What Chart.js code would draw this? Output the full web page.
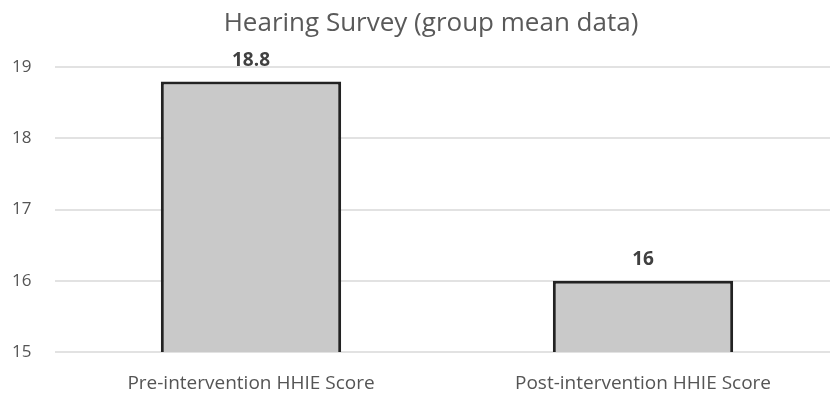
<!DOCTYPE html>
<html>
<head>
<meta charset="utf-8">
<script src="https://cdn.jsdelivr.net/npm/chart.js@4/dist/chart.umd.min.js"></script>
<style>
  html, body { margin: 0; padding: 0; background: #ffffff; overflow: hidden; }
  #wrap { width: 862px; height: 400px; position: relative; }
</style>
</head>
<body>
<div id="wrap"><canvas id="chart"></canvas></div>
<script>
// HHIE group means, before and after the intervention
const categories = ['Pre-intervention HHIE Score', 'Post-intervention HHIE Score'];
const hhieScores = [18.8, 16];
const yTicks = [15, 16, 17, 18, 19];

const FONT = '"Open Sans", "Liberation Sans", sans-serif';

// Writes each bar's value just above its top edge
const valueLabels = {
  id: 'valueLabels',
  afterDatasetsDraw(chart) {
    const ctx = chart.ctx;
    const meta = chart.getDatasetMeta(0);
    ctx.save();
    ctx.font = 'bold 19px ' + FONT;
    ctx.fillStyle = '#404040';
    ctx.textAlign = 'center';
    ctx.textBaseline = 'middle';
    meta.data.forEach((bar, i) => {
      ctx.fillText(String(chart.data.datasets[0].data[i]), bar.x, bar.y - 21);
    });
    ctx.restore();
  }
};

new Chart(document.getElementById('chart'), {
  type: 'bar',
  data: {
    labels: categories,
    datasets: [{
      data: hhieScores,
      backgroundColor: '#c9c9c9',
      borderColor: '#222222',
      borderWidth: 3,
      borderSkipped: false,
      barPercentage: 0.92,
      categoryPercentage: 0.5
    }]
  },
  options: {
    responsive: true,
    maintainAspectRatio: false,
    animation: false,
    layout: { padding: { top: 0, right: 23, bottom: 5, left: 23 } },
    plugins: {
      legend: { display: false },
      tooltip: { enabled: false },
      title: {
        display: true,
        text: 'Hearing Survey (group mean data)',
        color: '#595959',
        font: { family: FONT, size: 26, weight: 'normal' },
        padding: { top: 8, bottom: 28 }
      }
    },
    scales: {
      x: {
        afterFit(axis) { axis.height = 43; },
        grid: { display: false },
        border: { display: false },
        ticks: {
          color: '#555555',
          font: { family: FONT, size: 19 },
          padding: 12,
          maxRotation: 0
        }
      },
      y: {
        min: yTicks[0],
        max: yTicks[yTicks.length - 1],
        afterBuildTicks(axis) {
          axis.ticks = yTicks.map(v => ({ value: v }));
        },
        afterFit(axis) { axis.width = 32; },
        grid: { color: '#e2e2e2', lineWidth: 2, drawTicks: false },
        border: { display: false },
        ticks: {
          // labels sit in the left margin, starting 12px from the edge
          mirror: true,
          color: '#555555',
          font: { family: FONT, size: 17 },
          padding: -43
        }
      }
    }
  },
  plugins: [valueLabels]
});
</script>
</body>
</html>
